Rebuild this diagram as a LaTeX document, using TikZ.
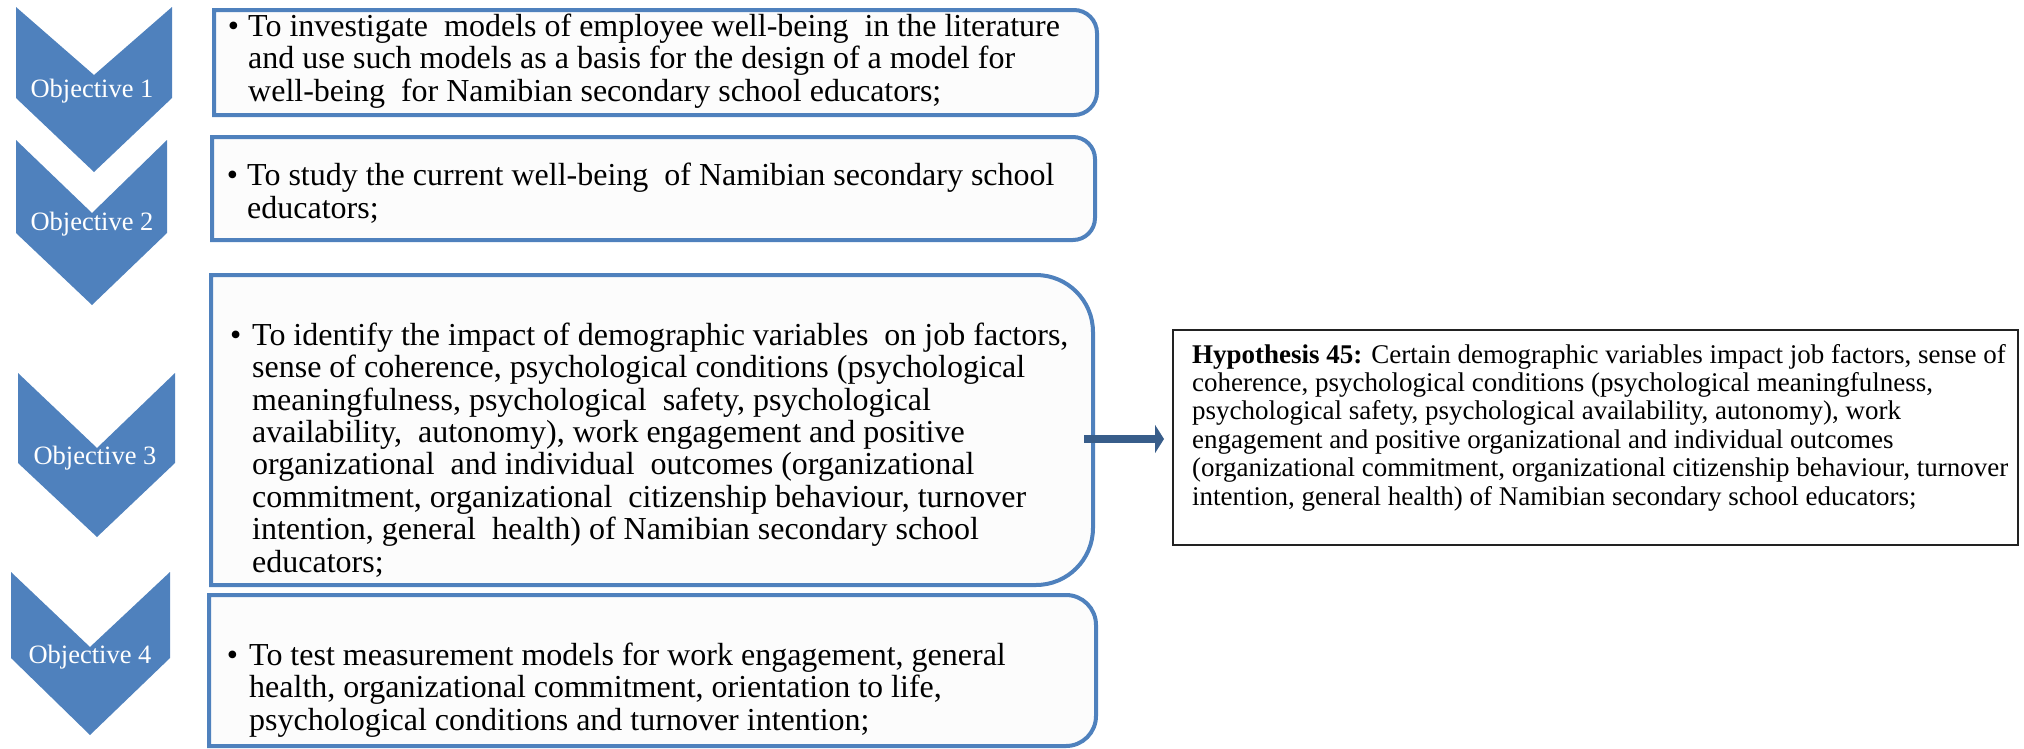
\documentclass[tikz,border=0pt]{standalone}
\usepackage{fontspec}
\setmainfont{Liberation Serif}
\usetikzlibrary{arrows.meta}

\definecolor{chevblue}{RGB}{79,129,189}
\definecolor{arrowblue}{RGB}{56,93,138}
\definecolor{boxfill}{RGB}{252,252,252}
\definecolor{hypline}{RGB}{34,34,34}

\tikzset{
  chevron/.style={fill=chevblue, draw=none},
  objlabel/.style={text=white, font=\fontsize{26.5}{28}\selectfont, inner sep=0pt, anchor=base},
  objbox/.style={draw=chevblue, line width=4pt, fill=boxfill},
  % multi-line text nodes: the base anchor sits on the last line
  bullettext/.style={anchor=base west, align=left, inner sep=0pt, font=\fontsize{32}{32.4}\selectfont},
  hypbox/.style={draw=hypline, line width=2pt, fill=white, inner sep=0pt},
  hyptext/.style={anchor=base west, align=left, inner sep=0pt, font=\fontsize{27}{28.4}\selectfont},
  link/.style={draw=arrowblue, line width=8pt, -{Triangle[length=9pt,width=28pt]}}
}

% frame with square left corners and rounded right corners:
% #1 left, #2 top, #3 right, #4 bottom, #5 corner radius
\newcommand{\objframe}[5]{%
  \draw[objbox] (#1,#2) -- (#3-#5,#2)
    arc[start angle=-90, end angle=0, radius=#5] -- (#3,#4-#5)
    arc[start angle=0, end angle=90, radius=#5] -- (#1,#4) -- cycle;}

% hanging bullet; optional argument is the gap before the text
\newcommand{\bul}[1][9pt]{\llap{\textbullet\hspace{#1}}}
\newcommand{\dsp}{\ \ }

\begin{document}
\begin{tikzpicture}[x=1pt, y=-1pt]
  \useasboundingbox (0,0) rectangle (2024,748);

  % objective chevrons
  \fill[chevron] (16,7) -- (94,75) -- (172,7) -- (172,98) -- (94,172) -- (16,98) -- cycle;
  \fill[chevron] (16,140) -- (92,213) -- (167,140) -- (167,233) -- (92,305) -- (16,233) -- cycle;
  \fill[chevron] (18,373) -- (97,448) -- (175,373) -- (175,463) -- (97,537) -- (18,463) -- cycle;
  \fill[chevron] (11,572) -- (90,647) -- (170,572) -- (170,658) -- (90,735) -- (11,658) -- cycle;

  \node[objlabel] (obj1) at (92,97) {Objective 1};
  \node[objlabel] (obj2) at (92,230) {Objective 2};
  \node[objlabel] (obj3) at (95,464) {Objective 3};
  \node[objlabel] (obj4) at (90,663) {Objective 4};

  % objective frames
  \objframe{214}{10}{1097}{115}{23}
  \objframe{212}{137}{1095}{240}{22}
  \objframe{211}{275}{1093}{585}{57}
  \objframe{209}{595}{1096}{746}{30}

  \node[bullettext] (t1) at (248,101) {\bul To investigate\dsp models of employee well-being\dsp in the literature\\
    and use such models as a basis for the design of a model for\\
    well-being\dsp for Namibian secondary school educators;};

  \node[bullettext] (t2) at (247,218) {\bul To study the current well-being\dsp of Namibian secondary school\\
    educators;};

  \node[bullettext] (t3) at (252,572) {\bul[11pt]To identify the impact of demographic variables\dsp on job factors,\\
    sense of coherence, psychological conditions (psychological\\
    meaningfulness, psychological\dsp safety, psychological\\
    availability,\dsp autonomy), work engagement and positive\\
    organizational\dsp and individual\dsp outcomes (organizational\\
    commitment, organizational\dsp citizenship behaviour, turnover\\
    intention, general\dsp health) of Namibian secondary school\\
    educators;};

  \node[bullettext] (t4) at (249,730) {\bul[11pt]To test measurement models for work engagement, general\\
    health, organizational commitment, orientation to life,\\
    psychological conditions and turnover intention;};

  % hypothesis box
  \node[hypbox, minimum width=845pt, minimum height=215pt, anchor=north west] (hyp) at (1172,329) {};
  \node[hyptext] (hyptxt) at (1192,505) {\textbf{Hypothesis 45:} Certain demographic variables impact job factors, sense of\\
    coherence, psychological conditions (psychological meaningfulness,\\
    psychological safety, psychological availability, autonomy), work\\
    engagement and positive organizational and individual outcomes\\
    (organizational commitment, organizational citizenship behaviour, turnover\\
    intention, general health) of Namibian secondary school educators;};

  % link from objective 3 to its hypothesis
  \coordinate (b3e) at (1084,439);
  \draw[link, shorten >=8pt] (b3e) -- (b3e -| hyp.west);
\end{tikzpicture}
\end{document}
